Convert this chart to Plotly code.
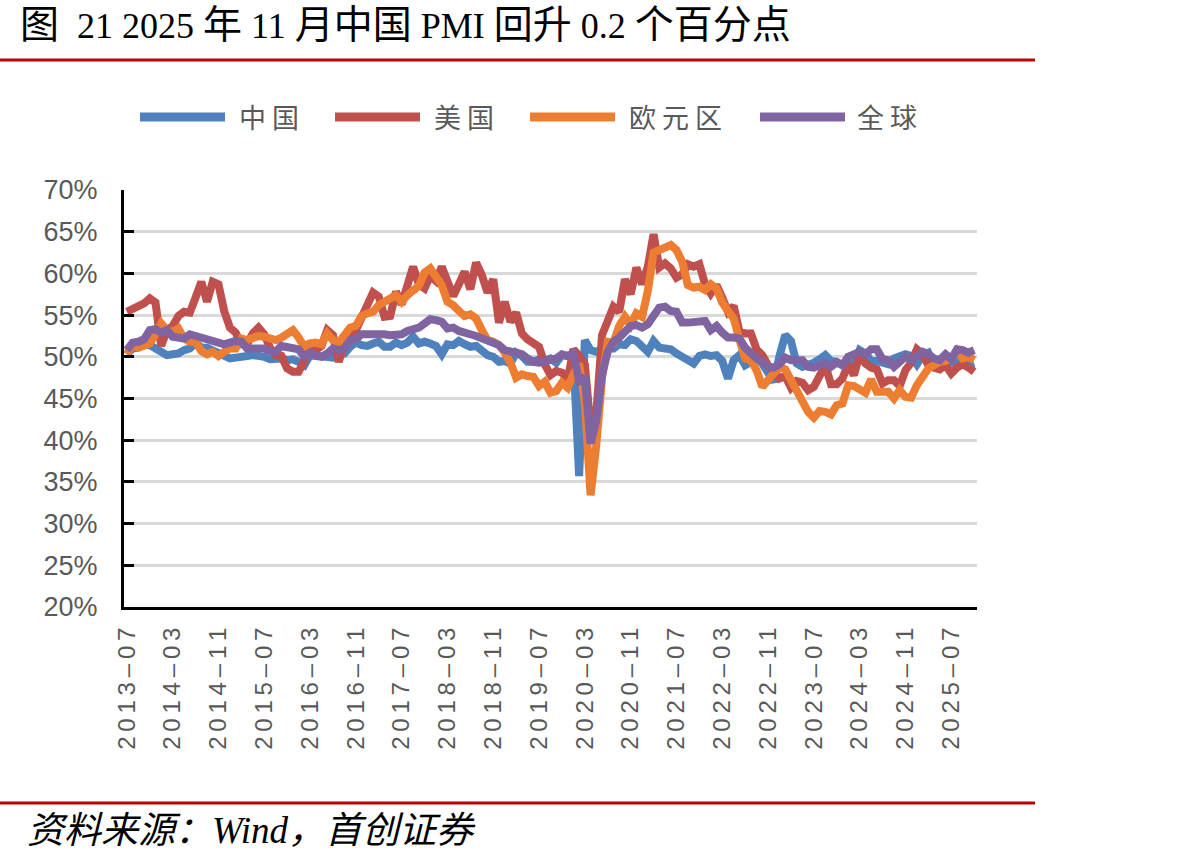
import plotly.graph_objects as go
import pandas as pd

# ---------------- data (monthly, 2013-07 .. 2025-11) ----------------
months = pd.date_range("2013-07-01", periods=149, freq="MS").strftime("%Y-%m").tolist()

china = [
    50.3, 51.0, 51.1, 51.4, 51.4, 51.0,
    50.5, 50.2, 50.3, 50.4, 50.8, 51.0, 51.7, 51.1, 51.1, 50.8, 50.3, 50.1,
    49.8, 49.9, 50.1, 50.1, 50.2, 50.2, 50.0, 49.7, 49.8, 49.8, 49.6, 49.7,
    49.4, 49.0, 50.2, 50.1, 50.1, 50.0, 49.9, 50.4, 50.4, 51.2, 51.7, 51.4,
    51.3, 51.6, 51.8, 51.2, 51.2, 51.7, 51.4, 51.7, 52.4, 51.6, 51.8, 51.6,
    51.3, 50.3, 51.5, 51.4, 51.9, 51.5, 51.2, 51.3, 50.8, 50.2, 50.0, 49.4,
    49.5, 49.2, 50.5, 50.1, 49.4, 49.4, 49.7, 49.5, 49.8, 49.3, 50.2, 50.2,
    50.0, 35.7, 52.0, 50.8, 50.6, 50.9, 51.1, 51.0, 51.5, 51.4, 52.1, 51.9,
    51.3, 50.6, 51.9, 51.1, 51.0, 50.9, 50.4, 50.1, 49.6, 49.2, 50.1, 50.3,
    50.1, 50.2, 49.5, 47.4, 49.6, 50.2, 49.0, 49.4, 50.1, 49.2, 48.0, 47.0,
    50.1, 52.6, 51.9, 49.2, 48.8, 49.0, 49.3, 49.7, 50.2, 49.5, 49.4, 49.0,
    49.2, 49.1, 50.8, 50.4, 49.5, 49.5, 49.4, 49.1, 49.8, 50.1, 50.3, 50.1,
    49.1, 50.2, 50.5, 49.0, 49.5, 49.7, 49.3, 49.4, 49.8, 49.0, 49.2,
]

us = [
    55.4, 55.7, 56.0, 56.4, 57.0, 56.5,
    51.3, 53.2, 53.7, 54.9, 55.4, 55.3, 57.1, 59.0, 56.6, 59.0, 58.7, 55.5,
    53.5, 52.9, 51.5, 51.5, 52.8, 53.5, 52.7, 51.1, 50.2, 50.1, 48.6, 48.2,
    48.2, 49.5, 51.8, 50.8, 51.3, 53.2, 52.6, 49.4, 51.5, 51.9, 53.2, 54.7,
    56.0, 57.7, 57.2, 54.8, 54.9, 57.8, 56.3, 58.8, 60.8, 58.7, 58.2, 59.7,
    59.1, 60.8, 59.3, 57.3, 58.7, 60.2, 58.1, 61.3, 59.8, 57.7, 59.3, 54.1,
    56.6, 54.2, 55.3, 52.8, 52.1, 51.7, 51.2, 49.1, 47.8, 48.3, 48.1, 47.2,
    50.9, 50.1, 49.1, 41.5, 43.1, 52.6, 54.2, 56.0, 55.4, 59.3, 57.5, 60.7,
    58.7, 60.8, 64.7, 60.7, 61.2, 60.6, 59.5, 59.9, 61.1, 60.8, 61.1, 58.7,
    57.6, 58.6, 57.1, 55.4, 56.1, 53.0, 52.8, 52.8, 50.9, 50.2, 49.0, 48.4,
    47.4, 47.7, 46.3, 47.1, 46.9, 46.0, 46.4, 47.6, 49.0, 46.7, 46.7, 47.4,
    49.1, 47.8, 50.3, 49.2, 48.7, 48.5, 46.8, 47.2, 47.2, 46.5, 48.4, 49.3,
    50.9, 50.3, 49.0, 48.7, 48.5, 49.0, 48.0, 48.7, 49.1, 48.7, 48.2,
]

euro = [
    50.3, 51.4, 51.1, 51.3, 51.6, 52.7,
    54.0, 53.2, 53.0, 53.4, 52.2, 51.8, 51.8, 50.7, 50.3, 50.6, 50.1, 50.6,
    51.0, 51.0, 52.2, 52.0, 52.2, 52.5, 52.4, 52.3, 52.0, 52.3, 52.8, 53.2,
    52.3, 51.2, 51.6, 51.7, 51.5, 52.8, 52.0, 51.7, 52.6, 53.5, 53.7, 54.9,
    55.2, 55.4, 56.2, 56.7, 57.0, 57.4, 56.6, 57.4, 58.1, 58.5, 60.1, 60.6,
    59.6, 58.6, 56.6, 56.2, 55.5, 54.9, 55.1, 54.6, 53.2, 52.0, 51.8, 51.4,
    50.5, 49.3, 47.5, 47.9, 47.7, 47.6, 46.5, 47.0, 45.7, 45.9, 46.9, 46.3,
    47.9, 49.2, 44.5, 33.4, 39.4, 47.4, 51.8, 51.7, 53.7, 54.8, 53.8, 55.2,
    54.8, 57.9, 62.5, 62.9, 63.1, 63.4, 62.8, 61.4, 58.6, 58.3, 58.4, 58.0,
    58.7, 58.2, 56.5, 55.5, 54.6, 52.1, 49.8, 49.6, 48.4, 46.4, 47.1, 47.8,
    48.8, 48.5, 47.3, 45.8, 44.8, 43.4, 42.7, 43.5, 43.4, 43.1, 44.2, 44.4,
    46.6, 46.5, 46.1, 45.7, 47.3, 45.8, 45.8, 45.8, 45.0, 46.0, 45.2, 45.1,
    46.6, 47.6, 48.6, 49.0, 49.4, 49.5, 49.8, 50.7, 49.8, 50.0, 49.6,
]

world = [
    50.8, 51.7, 51.8, 52.1, 53.2, 53.3,
    52.9, 53.2, 52.4, 52.4, 52.2, 52.7, 52.5, 52.5, 52.2, 52.0, 51.8, 51.5,
    51.7, 51.9, 51.8, 51.0, 51.0, 51.0, 51.0, 50.7, 50.6, 51.3, 51.2, 50.9,
    50.9, 50.0, 50.5, 50.1, 50.0, 50.4, 51.0, 50.8, 51.0, 52.0, 52.1, 52.7,
    52.7, 52.9, 52.8, 52.7, 52.6, 52.6, 52.7, 53.1, 53.2, 53.5, 54.0, 54.5,
    54.4, 54.2, 53.4, 53.5, 53.1, 53.0, 52.7, 52.5, 52.2, 52.0, 51.8, 51.4,
    50.8, 50.6, 50.5, 50.3, 49.8, 49.4, 49.3, 49.5, 49.7, 49.8, 50.3, 50.1,
    50.4, 47.1, 47.6, 39.6, 42.4, 47.9, 50.6, 51.8, 52.3, 53.0, 53.7, 53.8,
    53.5, 53.9, 55.0, 55.9, 56.0, 55.5, 55.4, 54.1, 54.1, 54.2, 54.2, 54.3,
    53.2, 53.7, 52.9, 52.3, 52.3, 52.2, 51.1, 50.3, 49.8, 49.4, 48.8, 48.7,
    49.1, 49.9, 49.6, 49.6, 49.6, 48.8, 48.7, 49.0, 49.2, 48.8, 49.3, 49.0,
    50.0, 50.3, 50.6, 50.3, 50.9, 50.9, 49.7, 49.6, 48.8, 49.4, 50.0, 49.6,
    50.1, 50.6, 50.3, 49.8, 49.6, 50.3, 49.7, 50.9, 50.8, 50.5, 50.8,
]

series_names = ["中国", "美国", "欧元区", "全球"]
series_colors = ["#4F81BD", "#C0504D", "#ED7D31", "#8064A2"]
series_values = [china, us, euro, world]

tick_labels = ["2013-07", "2014-03", "2014-11", "2015-07", "2016-03", "2016-11",
               "2017-07", "2018-03", "2018-11", "2019-07", "2020-03", "2020-11",
               "2021-07", "2022-03", "2022-11", "2023-07", "2024-03", "2024-11",
               "2025-07"]

# ---------------- figure ----------------
W, H = 1190, 865
L, R, T, B = 124, 977, 190, 607


def px(x):
    return (x - L) / (R - L)


def py(y):
    return (B - y) / (B - T)


idx = list(range(len(months)))
fig = go.Figure()
for name, color, vals in zip(series_names, series_colors, series_values):
    fig.add_trace(go.Scatter(x=idx, y=vals, name=name, mode="lines",
                             line=dict(color=color, width=8),
                             customdata=months, showlegend=False,
                             hovertemplate="%{customdata}: %{y}%<extra>" + name + "</extra>"))

label_pos = [months.index(t) for t in tick_labels]
spaced = ["\u2009".join(list(t.replace("-", "–"))) for t in tick_labels]
boundary_pos = [p - 0.5 for p in label_pos] + [len(months) - 0.5]

fig.update_layout(
    width=W, height=H, autosize=False,
    margin=dict(l=L, r=W - R, t=T, b=H - B, pad=0),
    plot_bgcolor="white", paper_bgcolor="white",
    font=dict(family="Liberation Sans, Arial, Noto Sans CJK SC", color="#595959"),
    xaxis=dict(range=[-0.5, len(months) - 0.5], tickmode="array",
               tickvals=label_pos, ticktext=spaced, tickangle=-90,
               ticks="", showgrid=False, zeroline=False,
               showline=True, linecolor="black", linewidth=3,
               tickfont=dict(size=24, color="#595959"),
               ticklabelstandoff=8),
    xaxis2=dict(range=[-0.5, len(months) - 0.5], overlaying="x", anchor="y",
                side="bottom", tickmode="array", tickvals=boundary_pos,
                showticklabels=False, ticks="inside", ticklen=9, tickwidth=3,
                tickcolor="black", showgrid=False, zeroline=False, showline=False),
    yaxis=dict(range=[20, 70], dtick=5, tick0=20, ticksuffix="%",
               showgrid=True, gridcolor="#D9D9D9", gridwidth=3,
               zeroline=False, showline=True, linecolor="black", linewidth=3,
               ticks="inside", ticklen=10, tickwidth=3, tickcolor="black",
               tickfont=dict(size=27, color="#595959"),
               ticklabelstandoff=18),
)

shapes = []
annotations = []
# red rules
for yy in (60, 803):
    shapes.append(dict(type="line", xref="paper", yref="paper",
                       x0=px(0), x1=px(1035), y0=py(yy), y1=py(yy),
                       line=dict(color="#C00000", width=3)))

# legend
leg_items = [(140, 225, 237), (335, 420, 432), (530, 615, 627), (760, 845, 855)]
for (x0, x1, xt), name, color in zip(leg_items, series_names, series_colors):
    shapes.append(dict(type="line", xref="paper", yref="paper",
                       x0=px(x0), x1=px(x1), y0=py(117), y1=py(117),
                       line=dict(color=color, width=9)))
    annotations.append(dict(xref="paper", yref="paper", x=px(xt), y=py(117),
                            xanchor="left", yanchor="middle", showarrow=False,
                            text=" ".join(list(name)),
                            font=dict(family="Noto Sans CJK SC", size=27, color="#595959")))

# title
cj = '<span style="font-size:39px">{}</span>'
title = (cj.format("图") + "\u00a0\u00a0" + "21 2025 " + cj.format("年") + " 11 "
         + cj.format("月中国") + " PMI " + cj.format("回升") + " 0.2 " + cj.format("个百分点"))
annotations.append(dict(xref="paper", yref="paper", x=px(18), y=py(24),
                        xanchor="left", yanchor="middle", showarrow=False, text=title,
                        font=dict(family="Liberation Serif, Noto Sans CJK SC", size=36, color="black")))

# source
annotations.append(dict(xref="paper", yref="paper", x=px(25), y=py(830),
                        xanchor="left", yanchor="middle", showarrow=False,
                        text="<i>资料来源：Wind，首创证券</i>",
                        font=dict(family="Liberation Serif, Noto Sans CJK SC", size=37, color="black")))

fig.update_layout(shapes=shapes, annotations=annotations)
fig.write_html("out.html")
